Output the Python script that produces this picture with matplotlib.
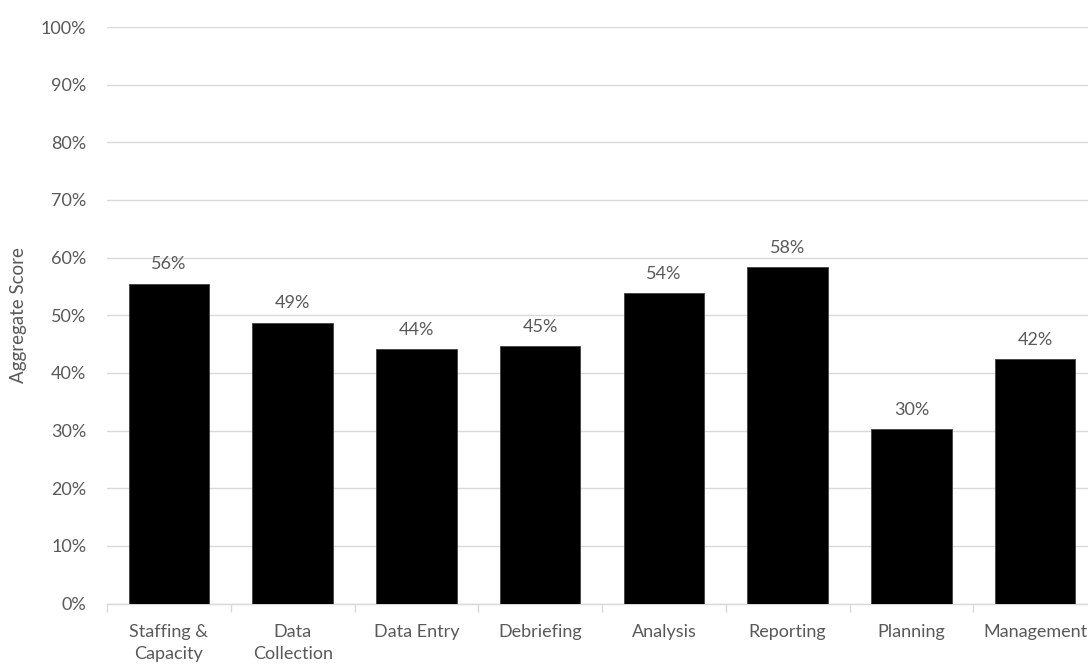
import matplotlib.pyplot as plt
import numpy as np
from matplotlib.ticker import PercentFormatter, FixedLocator

categories = ["Staffing &\nCapacity", "Data\nCollection", "Data Entry", "Debriefing",
              "Analysis", "Reporting", "Planning", "Management"]
scores = [55.5, 48.7, 44.1, 44.6, 53.8, 58.3, 30.2, 42.4]
labels = ["56%", "49%", "44%", "45%", "54%", "58%", "30%", "42%"]

plt.rcParams['font.family'] = ['Lato', 'DejaVu Sans']
grey = '#595959'
line = '#d9d9d9'
fs = 13

fig = plt.figure(figsize=(10.88, 6.64), dpi=100)
# the plot runs past the right edge, like the original (last label is cut)
ax = fig.add_axes([107 / 1088, 1 - 603.5 / 664, 990 / 1088, 576.5 / 664])

x = np.arange(len(categories))
ax.bar(x, scores, width=0.65, color='black', edgecolor='#404040', linewidth=0.6, zorder=3)

for xi, v, lab in zip(x, scores, labels):
    ax.text(xi, v + 2.0, lab, ha='center', va='bottom', fontsize=fs, color=grey)

ax.set_xlim(-0.5, len(categories) - 0.5)
ax.set_ylim(0, 100)
ax.set_yticks(np.arange(0, 101, 10))
ax.yaxis.set_major_formatter(PercentFormatter(decimals=0))
ax.grid(axis='y', color=line, linewidth=1, zorder=0)
ax.tick_params(axis='y', length=0, pad=15, labelsize=fs, labelcolor=grey)

ax.set_xticks(x)
ax.set_xticklabels(categories, linespacing=1.45)
ax.tick_params(axis='x', which='major', length=0, pad=15, labelsize=fs, labelcolor=grey)
ax.xaxis.set_minor_locator(FixedLocator(np.arange(-0.5, len(categories), 1)))
ax.tick_params(axis='x', which='minor', length=6, color=line, width=1)

for s in ['top', 'right', 'left']:
    ax.spines[s].set_visible(False)
ax.spines['bottom'].set_color(line)
ax.spines['bottom'].set_linewidth(1)

ax.set_ylabel("Aggregate Score", fontsize=13.5, color=grey, labelpad=10)

fig.savefig("out.png", dpi=100)
